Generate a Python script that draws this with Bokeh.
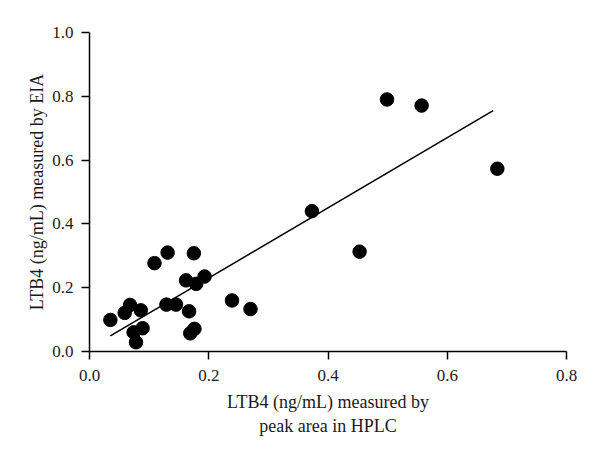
from bokeh.plotting import figure
from bokeh.models import ColumnDataSource, Range1d, FixedTicker, NumeralTickFormatter
from bokeh.embed import file_html
from bokeh.resources import INLINE

# Data
hplc = [0.035, 0.059, 0.068, 0.086, 0.074, 0.089, 0.078, 0.109, 0.131, 0.175,
        0.129, 0.145, 0.162, 0.179, 0.193, 0.167, 0.169, 0.176, 0.239, 0.270,
        0.499, 0.557, 0.684, 0.373, 0.453]
eia = [0.099, 0.121, 0.146, 0.129, 0.060, 0.073, 0.029, 0.277, 0.310, 0.308,
       0.147, 0.147, 0.223, 0.212, 0.235, 0.126, 0.057, 0.071, 0.160, 0.133,
       0.790, 0.771, 0.573, 0.440, 0.313]
fit_x = [0.035, 0.677]
fit_y = [0.049, 0.755]
x_ticks = [0.0, 0.2, 0.4, 0.6, 0.8]
y_ticks = [0.0, 0.2, 0.4, 0.6, 0.8, 1.0]

FONT = "Liberation Serif"

p = figure(output_backend="svg", toolbar_location=None,
           x_range=Range1d(0, 0.8), y_range=Range1d(0, 1.0),
           frame_width=477, frame_height=319,
           min_border_left=89, min_border_top=32, min_border_right=25, min_border_bottom=100)
p.outline_line_color = None
p.xgrid.visible = False
p.ygrid.visible = False

src = ColumnDataSource(dict(x=hplc, y=eia))
p.line(fit_x, fit_y, line_color="black", line_width=1.5)
p.scatter("x", "y", source=src, size=13.5, fill_color="black", line_color="black")

for ax, ticks in ((p.xaxis, x_ticks), (p.yaxis, y_ticks)):
    ax.ticker = FixedTicker(ticks=ticks)
    ax.formatter = NumeralTickFormatter(format="0.0")
    ax.minor_tick_line_color = None
    ax.major_tick_out = 8
    ax.major_tick_in = 0
    ax.axis_line_width = 1.5
    ax.major_tick_line_width = 1.5
    ax.axis_line_color = "black"
    ax.major_tick_line_color = "black"
    ax.major_label_text_font = FONT
    ax.major_label_text_font_size = "17px"
    ax.major_label_text_color = "#1a1a1a"
    ax.axis_label_text_font = FONT
    ax.axis_label_text_font_size = "18px"
    ax.axis_label_text_font_style = "normal"
    ax.axis_label_text_color = "#1a1a1a"

p.xaxis.axis_label = "LTB4 (ng/mL) measured by\npeak area in HPLC"
p.yaxis.axis_label = "LTB4 (ng/mL) measured by EIA"
p.xaxis.major_label_standoff = 10
p.yaxis.major_label_standoff = 8
p.xaxis.axis_label_standoff = 8
p.yaxis.axis_label_standoff = 2

open("out.html", "w").write(file_html(p, INLINE))
